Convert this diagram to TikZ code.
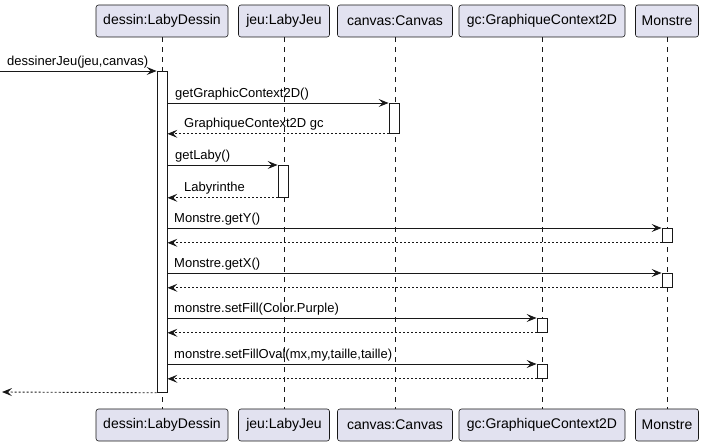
\documentclass[tikz,border=0pt]{standalone}
\usepackage{fontspec}
\setmainfont{Liberation Sans}
\usetikzlibrary{arrows.meta}
\definecolor{pbox}{HTML}{E2E2F0}
\definecolor{pline}{HTML}{181818}
\begin{document}
\begin{tikzpicture}[x=1pt,y=-1pt,
  part/.style={draw=pline, fill=pbox, rounded corners=2.5pt, minimum height=32pt, inner sep=0pt, line width=0.6pt, font=\fontsize{14}{16}\selectfont},
  life/.style={draw=pline, dash pattern=on 5pt off 5pt, line width=0.5pt},
  actbar/.style={draw=pline, fill=white, line width=0.8pt, anchor=north, minimum width=10pt, inner sep=0pt},
  msg/.style={draw=pline, line width=0.9pt, -{Stealth[length=10pt,width=8pt,inset=4pt]}},
  ret/.style={msg, dash pattern=on 2pt off 2pt},
  lbl/.style={font=\fontsize{13}{15}\selectfont, anchor=base west, inner sep=0pt}]
\useasboundingbox (0,0) rectangle (705,446);

% participants
\node[part, minimum width=132pt] (dT) at (162,21) {dessin:LabyDessin};
\node[part, minimum width=91pt]  (jT) at (284,21) {jeu:LabyJeu};
\node[part, minimum width=115pt] (cT) at (395,21) {canvas:Canvas};
\node[part, minimum width=166pt] (gT) at (542,21) {gc:GraphiqueContext2D};
\node[part, minimum width=63pt]  (mT) at (667,21) {Monstre};
\node[part, minimum width=132pt] (dB) at (162,425) {dessin:LabyDessin};
\node[part, minimum width=91pt]  (jB) at (284,425) {jeu:LabyJeu};
\node[part, minimum width=115pt] (cB) at (395,425) {canvas:Canvas};
\node[part, minimum width=166pt] (gB) at (542,425) {gc:GraphiqueContext2D};
\node[part, minimum width=63pt]  (mB) at (667,425) {Monstre};

% lifelines
\foreach \p in {d,j,c,g,m} \draw[life] (\p T.south) -- (\p B.north);

% activations
\node[actbar, minimum height=321pt] (aD) at (162,71) {};
\node[actbar, minimum height=30pt] (aC) at (394,103) {};
\node[actbar, minimum height=32pt] (aJ) at (283,165) {};
\node[actbar, minimum height=14pt] (aM1) at (667,228) {};
\node[actbar, minimum height=14pt] (aM2) at (667,273) {};
\node[actbar, minimum height=14pt] (aG1) at (542,318) {};
\node[actbar, minimum height=14pt] (aG2) at (542,364) {};

% free ends
\coordinate (inStart) at (0,71);
\coordinate (outEnd) at (2,392);

% messages
\draw[msg] (inStart) -- (aD.north west);
\node[lbl] (l0) at (7,66) {dessinerJeu(jeu,canvas)};

\draw[msg] (aD.east |- aC.north) -- (aC.north west);
\node[lbl] (l1) at (175,98) {getGraphicContext2D()};
\draw[ret] (aC.south west) -- (aD.east |- aC.south);
\node[lbl] (l2) at (184,128) {GraphiqueContext2D gc};

\draw[msg] (aD.east |- aJ.north) -- (aJ.north west);
\node[lbl] (l3) at (175,160) {getLaby()};
\draw[ret] (aJ.south west) -- (aD.east |- aJ.south);
\node[lbl] (l4) at (184,192) {Labyrinthe};

\draw[msg] (aD.east |- aM1.north) -- (aM1.north west);
\node[lbl] (l5) at (174,223) {Monstre.getY()};
\draw[ret] (aM1.south west) -- (aD.east |- aM1.south);

\draw[msg] (aD.east |- aM2.north) -- (aM2.north west);
\node[lbl] (l6) at (174,268) {Monstre.getX()};
\draw[ret] (aM2.south west) -- (aD.east |- aM2.south);

\draw[msg] (aD.east |- aG1.north) -- (aG1.north west);
\node[lbl] (l7) at (174,313) {monstre.setFill(Color.Purple)};
\draw[ret] (aG1.south west) -- (aD.east |- aG1.south);

\draw[msg] (aD.east |- aG2.north) -- (aG2.north west);
\node[lbl] (l8) at (174,359) {monstre.setFillOval(mx,my,taille,taille)};
\draw[ret] (aG2.south west) -- (aD.east |- aG2.south);

\draw[ret] (aD.south west) -- (outEnd);
\end{tikzpicture}
\end{document}
